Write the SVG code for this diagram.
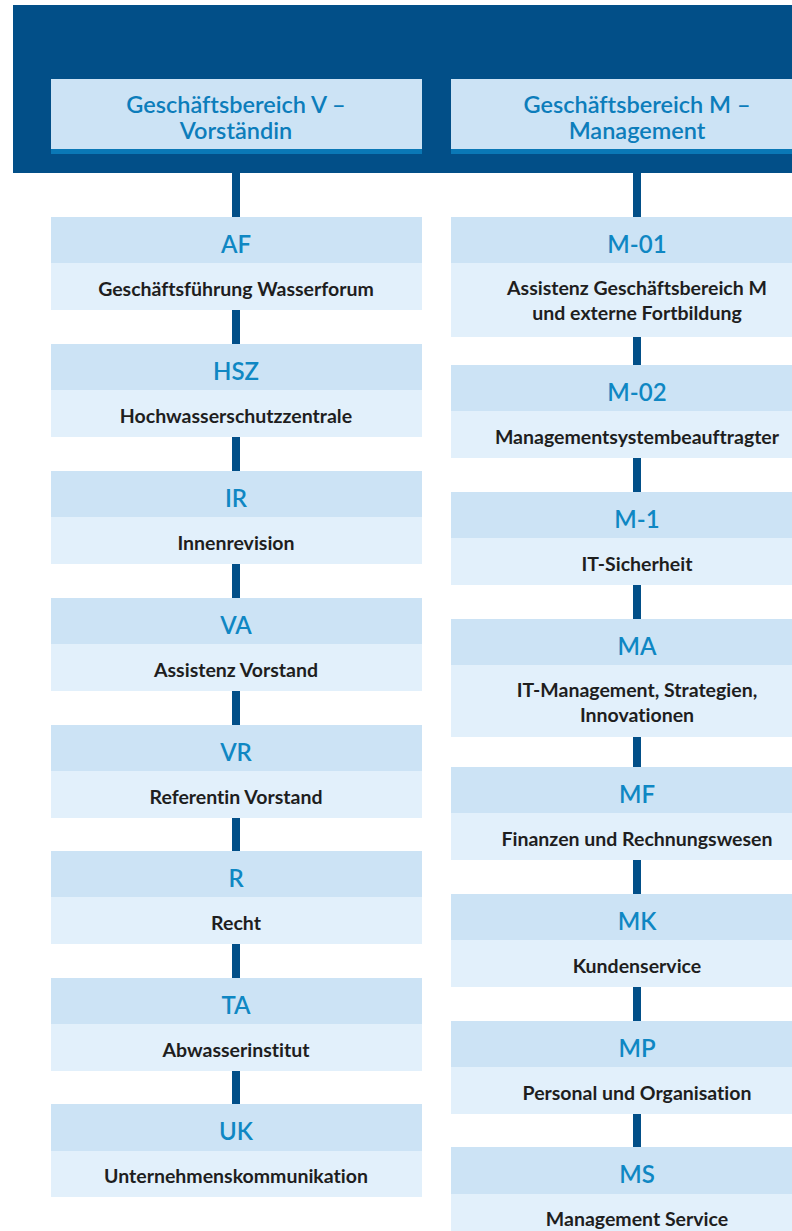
<svg xmlns="http://www.w3.org/2000/svg" width="792" height="1231" viewBox="0 0 792 1231">
<style>
  .hdr { fill: #cce3f5; }
  .bar { fill: #0a78b6; }
  .top { fill: #cce3f5; }
  .body { fill: #e2f0fb; }
  .con { fill: #024f88; }
  text { font-variant-ligatures: none; font-feature-settings: "liga" 0, "clig" 0, "dlig" 0; }
  .h { font-family: Lato, "Open Sans", sans-serif; font-size: 23.5px; font-weight: 600; fill: #0c7dbb; text-anchor: middle; }
  .code { font-family: Lato, "Open Sans", sans-serif; font-size: 24px; font-weight: 600; fill: #0f87c3; text-anchor: middle; }
  .txt { font-family: Lato, "Open Sans", sans-serif; font-size: 19.5px; font-weight: 700; fill: #1e1e1e; text-anchor: middle; }
</style>
<rect width="792" height="1231" fill="#ffffff"/>
<g id="header">
  <rect x="13" y="5" width="779" height="168" fill="#024f88"/>
</g>
<g id="gb-v">
  <rect class="hdr" x="51" y="79" width="371" height="70"/>
  <rect class="bar" x="51" y="149" width="371" height="5"/>
  <text class="h" x="236" y="113">Geschäftsbereich V –</text>
  <text class="h" x="236" y="139">Vorständin</text>
</g>
<g id="gb-m">
  <rect class="hdr" x="451" y="79" width="371" height="70"/>
  <rect class="bar" x="451" y="149" width="371" height="5"/>
  <text class="h" x="637" y="113">Geschäftsbereich M –</text>
  <text class="h" x="637" y="139">Management</text>
</g>
<g id="connectors">
  <rect class="con" x="232" y="173" width="8" height="44"/>
  <rect class="con" x="232" y="310" width="8" height="34"/>
  <rect class="con" x="232" y="437" width="8" height="34"/>
  <rect class="con" x="232" y="564" width="8" height="34"/>
  <rect class="con" x="232" y="691" width="8" height="34"/>
  <rect class="con" x="232" y="818" width="8" height="33"/>
  <rect class="con" x="232" y="944" width="8" height="34"/>
  <rect class="con" x="232" y="1071" width="8" height="33"/>
  <rect class="con" x="633" y="173" width="8" height="44"/>
  <rect class="con" x="633" y="337" width="8" height="28"/>
  <rect class="con" x="633" y="458" width="8" height="34"/>
  <rect class="con" x="633" y="585" width="8" height="34"/>
  <rect class="con" x="633" y="737" width="8" height="30"/>
  <rect class="con" x="633" y="860" width="8" height="34"/>
  <rect class="con" x="633" y="987" width="8" height="34"/>
  <rect class="con" x="633" y="1114" width="8" height="33"/>
</g>
<g id="AF">
  <rect class="top" x="51" y="217" width="371" height="46"/>
  <rect class="body" x="51" y="263" width="371" height="47"/>
  <text class="code" x="236" y="253">AF</text>
  <text class="txt" x="236" y="296">Geschäftsführung Wasserforum</text>
</g>
<g id="HSZ">
  <rect class="top" x="51" y="344" width="371" height="46"/>
  <rect class="body" x="51" y="390" width="371" height="47"/>
  <text class="code" x="236" y="380">HSZ</text>
  <text class="txt" x="236" y="423">Hochwasserschutzzentrale</text>
</g>
<g id="IR">
  <rect class="top" x="51" y="471" width="371" height="46"/>
  <rect class="body" x="51" y="517" width="371" height="47"/>
  <text class="code" x="236" y="507">IR</text>
  <text class="txt" x="236" y="550">Innenrevision</text>
</g>
<g id="VA">
  <rect class="top" x="51" y="598" width="371" height="46"/>
  <rect class="body" x="51" y="644" width="371" height="47"/>
  <text class="code" x="236" y="634">VA</text>
  <text class="txt" x="236" y="677">Assistenz Vorstand</text>
</g>
<g id="VR">
  <rect class="top" x="51" y="725" width="371" height="46"/>
  <rect class="body" x="51" y="771" width="371" height="47"/>
  <text class="code" x="236" y="761">VR</text>
  <text class="txt" x="236" y="804">Referentin Vorstand</text>
</g>
<g id="R">
  <rect class="top" x="51" y="851" width="371" height="46"/>
  <rect class="body" x="51" y="897" width="371" height="47"/>
  <text class="code" x="236" y="887">R</text>
  <text class="txt" x="236" y="930">Recht</text>
</g>
<g id="TA">
  <rect class="top" x="51" y="978" width="371" height="46"/>
  <rect class="body" x="51" y="1024" width="371" height="47"/>
  <text class="code" x="236" y="1014">TA</text>
  <text class="txt" x="236" y="1057">Abwasserinstitut</text>
</g>
<g id="UK">
  <rect class="top" x="51" y="1104" width="371" height="47"/>
  <rect class="body" x="51" y="1151" width="371" height="46"/>
  <text class="code" x="236" y="1140">UK</text>
  <text class="txt" x="236" y="1183">Unternehmenskommunikation</text>
</g>
<g id="M-01">
  <rect class="top" x="451" y="217" width="371" height="46"/>
  <rect class="body" x="451" y="263" width="371" height="74"/>
  <text class="code" x="637" y="253">M-01</text>
  <text class="txt" x="637" y="295">Assistenz Geschäftsbereich M</text>
  <text class="txt" x="637" y="320">und externe Fortbildung</text>
</g>
<g id="M-02">
  <rect class="top" x="451" y="365" width="371" height="46"/>
  <rect class="body" x="451" y="411" width="371" height="47"/>
  <text class="code" x="637" y="401">M-02</text>
  <text class="txt" x="637" y="444">Managementsystembeauftragter</text>
</g>
<g id="M-1">
  <rect class="top" x="451" y="492" width="371" height="46"/>
  <rect class="body" x="451" y="538" width="371" height="47"/>
  <text class="code" x="637" y="528">M-1</text>
  <text class="txt" x="637" y="571">IT-Sicherheit</text>
</g>
<g id="MA">
  <rect class="top" x="451" y="619" width="371" height="46"/>
  <rect class="body" x="451" y="665" width="371" height="72"/>
  <text class="code" x="637" y="655">MA</text>
  <text class="txt" x="637" y="697">IT-Management, Strategien,</text>
  <text class="txt" x="637" y="722">Innovationen</text>
</g>
<g id="MF">
  <rect class="top" x="451" y="767" width="371" height="46"/>
  <rect class="body" x="451" y="813" width="371" height="47"/>
  <text class="code" x="637" y="803">MF</text>
  <text class="txt" x="637" y="846">Finanzen und Rechnungswesen</text>
</g>
<g id="MK">
  <rect class="top" x="451" y="894" width="371" height="46"/>
  <rect class="body" x="451" y="940" width="371" height="47"/>
  <text class="code" x="637" y="930">MK</text>
  <text class="txt" x="637" y="973">Kundenservice</text>
</g>
<g id="MP">
  <rect class="top" x="451" y="1021" width="371" height="46"/>
  <rect class="body" x="451" y="1067" width="371" height="47"/>
  <text class="code" x="637" y="1057">MP</text>
  <text class="txt" x="637" y="1100">Personal und Organisation</text>
</g>
<g id="MS">
  <rect class="top" x="451" y="1147" width="371" height="47"/>
  <rect class="body" x="451" y="1194" width="371" height="46"/>
  <text class="code" x="637" y="1183">MS</text>
  <text class="txt" x="637" y="1226">Management Service</text>
</g>
</svg>
